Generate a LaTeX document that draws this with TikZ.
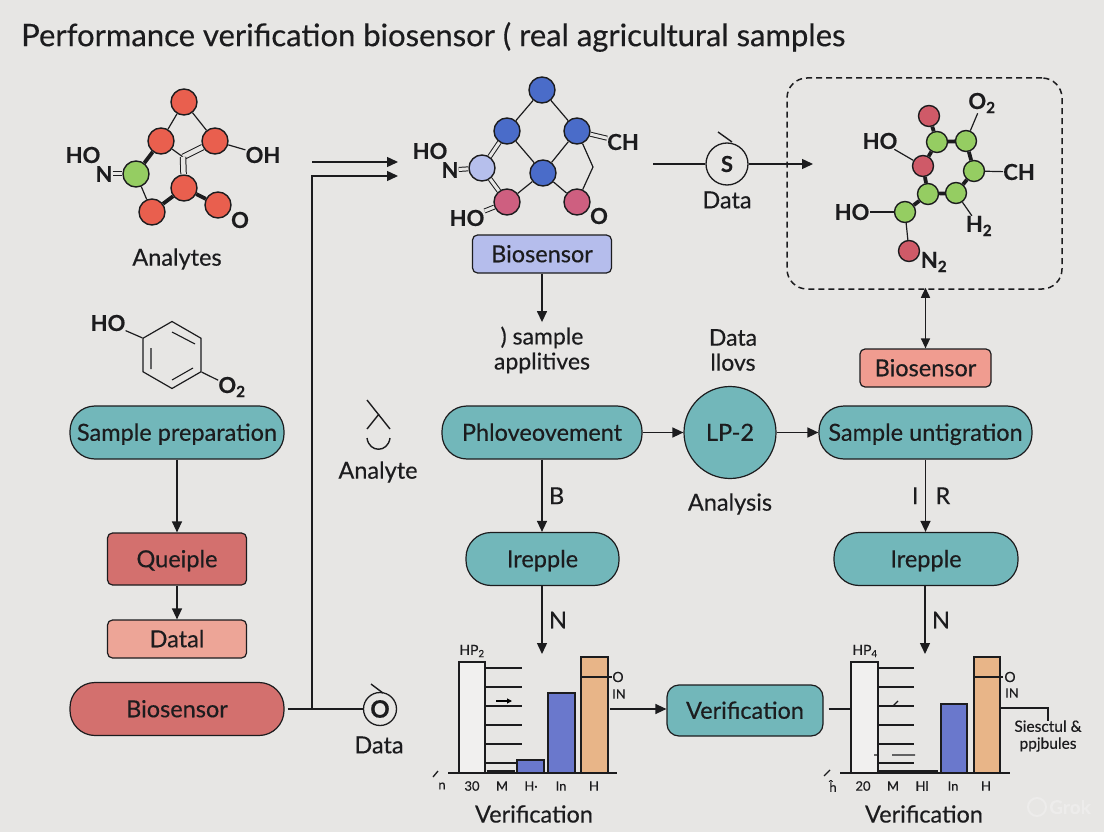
\documentclass[tikz,border=0pt]{standalone}
\usepackage{fontspec}
\setmainfont{Lato}[FakeBold=0.35]
\usetikzlibrary{shapes,arrows.meta,positioning,calc}
\definecolor{paper}{HTML}{E7E6E4}
\definecolor{inkdark}{HTML}{1C1C1E}
\definecolor{tealbox}{HTML}{72B7BA}
\definecolor{redbox}{HTML}{D3706E}
\definecolor{salmonbox}{HTML}{EDA597}
\definecolor{rosebox}{HTML}{F09C90}
\definecolor{lilacbox}{HTML}{B5BDEC}
\definecolor{atomred}{HTML}{E95F4E}
\definecolor{atomgreen}{HTML}{95CD62}
\definecolor{atomblue}{HTML}{4A6CC9}
\definecolor{atomlilac}{HTML}{B6BFEC}
\definecolor{atompink}{HTML}{CE5F80}
\definecolor{atomcrim}{HTML}{CF5A68}
\definecolor{barblue}{HTML}{6A78CC}
\definecolor{barorange}{HTML}{E8B588}

\begin{document}
\begin{tikzpicture}[
    x=1pt, y=-1pt,
    every node/.style={text=inkdark, font=\fontsize{23.5}{25}\selectfont},
    box/.style={draw=inkdark, rectangle, rounded corners=5pt, line width=1.2pt, inner sep=0pt, align=center, text height=20pt, text depth=3.5pt},
    pill/.style={box, rounded corners=25pt, fill=tealbox, minimum height=53pt},
    atom/.style={draw=inkdark, circle, line width=1.4pt, inner sep=0pt, minimum size=26pt},
    smallatom/.style={atom, minimum size=21pt},
    chem/.style={font=\fontsize{22}{24}\selectfont\bfseries, inner sep=0pt},
    tiny/.style={font=\fontsize{13}{15}\selectfont, inner sep=0pt},
    symb/.style={draw=inkdark, circle, line width=1.3pt, inner sep=0pt, fill=paper},
    bond/.style={line width=1.2pt, draw=inkdark},
    fatbond/.style={line width=3.8pt, draw=inkdark},
    dblbond/.style={draw=inkdark, line width=1pt, double=paper, double distance=3pt},
    widebond/.style={dblbond, double distance=4.5pt},
    arrow/.style={->, >={Stealth[inset=0pt,length=11pt,width=10pt]}, line width=1.4pt, draw=inkdark},
    doublearrow/.style={<->, >={Stealth[inset=0pt,length=10pt,width=9pt]}, line width=1.4pt, draw=inkdark},
    line/.style={line width=1.4pt, draw=inkdark},
    bar/.style={draw=inkdark, line width=1.3pt}
]

    % Canvas
    \fill[paper] (0,0) rectangle (1104,832);
    \useasboundingbox (0,0) rectangle (1104,832);

    \node[anchor=west, inner sep=0pt, font=\fontsize{31}{33}\selectfont] (title) at (21,37) {Performance verification biosensor ( real agricultural samples};

    % 1. Analytes molecule (Top Left)
    \node[atom, fill=atomred] (a1) at (184,102) {};
    \node[atom, fill=atomred] (a2) at (161,141) {};
    \node[atom, fill=atomred] (a3) at (215,141) {};
    \node[atom, fill=atomgreen] (a4) at (136,174) {};
    \node[atom, fill=atomred] (a5) at (184,188) {};
    \node[atom, fill=atomred] (a6) at (152,212) {};
    \node[atom, fill=atomred] (a7) at (218,205) {};
    \coordinate (ajoint) at (183,157);
    \node[chem] (hoA) at (83,155) {HO};
    \node[chem] (nA) at (104,174) {N};
    \node[chem] (ohA) at (263,155) {OH};
    \node[chem] (oA) at (240,220) {O};
    \node (analytes) at (177,259) {Analytes};

    \draw[bond] (a1) -- (a2);
    \draw[bond] (a1) -- (a3);
    \draw[fatbond] (a2) -- (a4);
    \draw[bond] (a4) -- (a6);
    \draw[fatbond] (a6) -- (a5);
    \draw[fatbond] (a5) -- (a7);
    \draw[bond] (a2) -- (ajoint);
    \draw[widebond] (a3) -- (ajoint);
    \draw[widebond] (ajoint) -- (a5);
    \draw[bond] (a3) -- (ohA);
    \draw[dblbond] (nA) -- (a4);

    % 2. Ring and left column
    \node[regular polygon, regular polygon sides=6, shape border rotate=30, draw=inkdark, line width=1.2pt, minimum size=67pt, inner sep=0pt] (ring) at (172,355) {};
    \draw[line width=1.1pt, draw=inkdark] (172,332) -- (195,344) (151,348) -- (151,369) (172,380) -- (193,368);
    \node[chem] (hoB) at (108,323) {HO};
    \node[chem] (oB) at (232,387) {O\textsubscript{2}};
    \draw[bond] (hoB) -- (ring.150);
    \draw[bond] (ring.-30) -- (oB);

    \node[pill, minimum width=214pt] (prep) at (177,432.5) {Sample preparation};
    \node[box, fill=redbox, minimum width=139pt, minimum height=52pt] (queiple) at (177,559) {Queiple};
    \node[box, fill=salmonbox, minimum width=139pt, minimum height=38pt] (datal) at (177,639) {Datal};
    \node[pill, fill=redbox, minimum width=214pt] (bioA) at (177,709) {Biosensor};

    \draw[arrow] (prep) -- (queiple);
    \draw[arrow] (queiple) -- (datal);

    % 3. Long feed lines
    \node[symb, minimum size=33pt, font=\fontsize{24}{26}\selectfont\bfseries] (symO) at (380,709) {O};
    \draw[line] (371,684) -- (383,693);
    \node (dataA) at (379,745) {Data};
    \coordinate (branch) at (312,709);
    \coordinate (inA) at (398,176);
    \coordinate (startB) at (312,162);
    \coordinate (inB) at (398,162);
    \draw[line] ([xshift=3pt]bioA.east) -- (symO);
    \draw[arrow] (branch) |- (inA);
    \draw[arrow] (startB) -- (inB);

    \draw[line] (367,400) -- (390,429) (367,429) -- (379,414);
    \draw[line] (367,438) .. controls (369,453) and (388,453) .. (390,438);
    \node (analyte) at (378,472) {Analyte};

    % 4. Biosensor molecule (Top Middle)
    \node[atom, fill=atomblue] (b1) at (542,90) {};
    \node[atom, fill=atomblue] (b2) at (507,131) {};
    \node[atom, fill=atomblue] (b3) at (577,131) {};
    \node[atom, fill=atomlilac] (b4) at (482,168) {};
    \node[atom, fill=atomblue] (b5) at (543,173) {};
    \node[atom, fill=atompink] (b6) at (507,202) {};
    \node[atom, fill=atompink] (b7) at (577,202) {};
    \coordinate (bbend) at (593,167);
    \node[chem] (hoC) at (430,151) {HO};
    \node[chem] (nC) at (450,170) {N};
    \node[chem] (chC) at (623,142) {CH};
    \node[chem] (hoD) at (467,218) {HO};
    \node[chem] (oC) at (599,216) {O};

    \draw[bond] (b1) -- (b2);
    \draw[bond] (b1) -- (b3);
    \draw[dblbond] (b2) -- (b4);
    \draw[bond] (b2) -- (b5);
    \draw[bond] (b3) -- (b5);
    \draw[bond] (b5) -- (b6);
    \draw[bond] (b5) -- (b7);
    \draw[dblbond] (b4) -- (b6);
    \draw[bond] (b3) -- (bbend) -- (b7);
    \draw[dblbond] (b3) -- (chC);
    \draw[dblbond] (nC) -- (b4);
    \draw[dblbond] (hoD) -- (b6);

    \node[box, fill=lilacbox, minimum width=139pt, minimum height=38pt] (bioB) at (542,254) {Biosensor};
    \node[align=center, font=\fontsize{23}{25}\selectfont] (sampleapp) at (542,350) {) sample\\applitives};
    \draw[arrow] (bioB) -- ([yshift=1pt]sampleapp.north);
    \node[align=center, font=\fontsize{23}{25}\selectfont] (dataflow) at (733,350) {Data\\llovs};

    % 5. S symbol and dashed molecule box (Top Right)
    \node[symb, minimum size=42pt, font=\fontsize{22}{24}\selectfont\bfseries] (symS) at (727,164) {S};
    \draw[line] (718,132) -- (732,142);
    \node (dataB) at (727,200) {Data};
    \node[draw=inkdark, rectangle, rounded corners=20pt, dash pattern=on 6pt off 4pt, line width=1.5pt, minimum width=275pt, minimum height=211pt, inner sep=0pt] (cage) at (924.5,183.5) {};
    \coordinate (startS) at (653,164);
    \coordinate (inC) at (813,164);
    \draw[line] (startS) -- (symS);
    \draw[arrow] (symS) -- (inC);

    \node[smallatom, fill=atomcrim] (c1) at (929,116) {};
    \node[smallatom, fill=atomgreen] (c2) at (937,142) {};
    \node[smallatom, fill=atomgreen] (c3) at (966,141) {};
    \node[smallatom, fill=atomcrim] (c4) at (923,166) {};
    \node[smallatom, fill=atomgreen] (c5) at (974,171) {};
    \node[smallatom, fill=atomgreen] (c6) at (928,194) {};
    \node[smallatom, fill=atomgreen] (c7) at (956,193) {};
    \node[smallatom, fill=atomgreen] (c8) at (905,212) {};
    \node[smallatom, fill=atomcrim] (c9) at (909,251) {};
    \node[chem] (hoE) at (880,141) {HO};
    \node[chem] (oE) at (982,103) {O\textsubscript{2}};
    \node[chem] (chE) at (1019,172) {CH};
    \node[chem] (hoF) at (852,212) {HO};
    \node[chem] (hE) at (979,226) {H\textsubscript{2}};
    \node[chem] (nE) at (934,262) {N\textsubscript{2}};

    \draw[fatbond] (c1) -- (c2);
    \draw[fatbond] (c2) -- (c3);
    \draw[fatbond] (c2) -- (c4);
    \draw[fatbond] (c3) -- (c5);
    \draw[fatbond] (c4) -- (c6);
    \draw[fatbond] (c5) -- (c7);
    \draw[fatbond] (c6) -- (c7);
    \draw[fatbond] (c6) -- (c8);
    \draw[bond] (c8) -- (c9);
    \draw[bond] (c8) -- (hoF);
    \draw[bond] (c5) -- (chE);
    \draw[bond] (c7) -- (hE);
    \draw[bond] (c4) -- (hoE);
    \draw[bond] (c3) -- (oE);

    % 6. Middle row
    \node[box, fill=rosebox, minimum width=131pt, minimum height=38pt] (bioC) at (925.5,368) {Biosensor};
    \draw[doublearrow] ([yshift=2pt]cage.south -| bioC) -- (bioC.north);

    \node[pill, minimum width=200pt] (phlo) at (542,432.5) {Phloveovement};
    \node[box, circle, rounded corners=0pt, fill=tealbox, minimum size=92pt] (lp) at (730,432.5) {LP-2};
    \node[pill, minimum width=213pt] (untig) at (925.5,432.5) {Sample untigration};
    \node (analysis) at (730,504) {Analysis};

    \draw[arrow] (phlo) -- (lp);
    \draw[arrow] (lp) -- (untig);

    \node[pill, minimum width=153pt] (irepA) at (542.5,559) {Irepple};
    \node[pill, minimum width=184pt] (irepB) at (926,559) {Irepple};

    \draw[arrow] (phlo) -- node[right, xshift=3pt] (lblB) {B} (irepA.north -| phlo);
    \draw[arrow] (untig) -- node[left, xshift=-3pt] (lblI) {I} node[right, xshift=6pt] (lblR) {R} (irepB.north -| untig);

    \coordinate (chartA) at (542,654);
    \coordinate (chartB) at (925,654);
    \draw[arrow] (irepA.south -| chartA) -- node[right, xshift=3pt] (lblNa) {N} (chartA);
    \draw[arrow] (irepB.south -| chartB) -- node[right, xshift=3pt] (lblNb) {N} (chartB);

    % 7. Left bar chart
    \draw[bar, fill=paper!60!white] (459,773) rectangle (485,662);
    \draw[bar, fill=inkdark!70!paper] (488,771) rectangle (514,773);
    \draw[bar, fill=barblue] (517,760) rectangle (544,773);
    \draw[bar, fill=barblue] (548,693) rectangle (575,773);
    \draw[bar, fill=barorange] (581,657) rectangle (608,773);
    \draw[line] (448,773) -- (617,773);
    \draw[bar] (485,668) -- (522,668) (485,687) -- (522,687) (485,706) -- (522,706) (485,725) -- (522,725) (485,744) -- (522,744) (485,763) -- (516,763);
    \draw[->, >={Stealth[inset=0pt,length=5pt,width=5pt]}, line width=1.1pt] (496,701) -- (512,701);
    \draw[bar] (580,677) -- (612,677);
    \draw[bar] (433,777) -- (438,771);
    \node[tiny, font=\fontsize{14}{15}\selectfont] (hpA) at (472,651) {HP\textsubscript{2}};
    \node[tiny, font=\fontsize{14}{15}\selectfont] (oF) at (618,677) {O};
    \node[tiny] (inF) at (619,694) {IN};
    \node[tiny] (tA1) at (442,786) {n};
    \node[tiny] (tA2) at (472,786) {30};
    \node[tiny] (tA3) at (502,786) {M};
    \node[tiny] (tA4) at (531,786) {H·};
    \node[tiny] (tA5) at (561,786) {In};
    \node[tiny] (tA6) at (594,786) {H};
    \node (verA) at (534,814) {Verification};

    % 8. Verification box
    \node[box, rounded corners=12pt, fill=tealbox, minimum width=156pt, minimum height=51pt] (verify) at (745,710.5) {Verification};
    \coordinate (outA) at (610,709);
    \coordinate (inD) at (851,709);
    \draw[arrow] (outA) -- (verify.west |- outA);
    \draw[line] ([xshift=5pt]verify.east |- inD) -- (inD);

    % 9. Right bar chart
    \draw[bar, fill=paper!60!white] (851,773) rectangle (878,662);
    \draw[bar, fill=inkdark!70!paper] (879,771) rectangle (909,773);
    \draw[bar, fill=inkdark!70!paper] (911,771) rectangle (937,773);
    \draw[bar, fill=barblue] (941,704) rectangle (967,773);
    \draw[bar, fill=barorange] (974,657) rectangle (1000,773);
    \draw[line] (840,773) -- (1010,773);
    \draw[bar] (878,668) -- (914,668) (878,687) -- (914,687) (878,706) -- (914,706) (878,725) -- (914,725) (878,744) -- (914,744) (878,763) -- (914,763);
    \draw[bar] (892,755) -- (915,755) (874,755) -- (877,755) (893,706) -- (898,701);
    \draw[bar] (973,677) -- (1003,677);
    \draw[bar] (824,776) -- (830,770);
    \node[tiny, font=\fontsize{14}{15}\selectfont] (hpB) at (865,651) {HP\textsubscript{4}};
    \node[tiny, font=\fontsize{14}{15}\selectfont] (oG) at (1010,677) {O};
    \node[tiny] (inG) at (1012,693) {IN};
    \node[tiny] (tB1) at (833,786) {ĥ};
    \node[tiny] (tB2) at (863,786) {20};
    \node[tiny] (tB3) at (893,786) {M};
    \node[tiny] (tB4) at (922,786) {Hl};
    \node[tiny] (tB5) at (953,786) {In};
    \node[tiny] (tB6) at (986,786) {H};
    \node (verB) at (924,814) {Verification};

    \node[align=center, font=\fontsize{15.5}{17}\selectfont, inner sep=0pt] (siesctul) at (1048,736) {Siesctul \&\\ppjbules};
    \coordinate (outB) at (1000,708);
    \draw[line] (outB) -| ([yshift=-1pt]siesctul.north);

    % 10. Watermark
    \node[font=\fontsize{19}{21}\selectfont\bfseries, text=white!25!paper] (grok) at (1070,807) {Grok};
    \draw[white!25!paper, line width=2pt] (1037,807) circle (9);

\end{tikzpicture}
\end{document}
